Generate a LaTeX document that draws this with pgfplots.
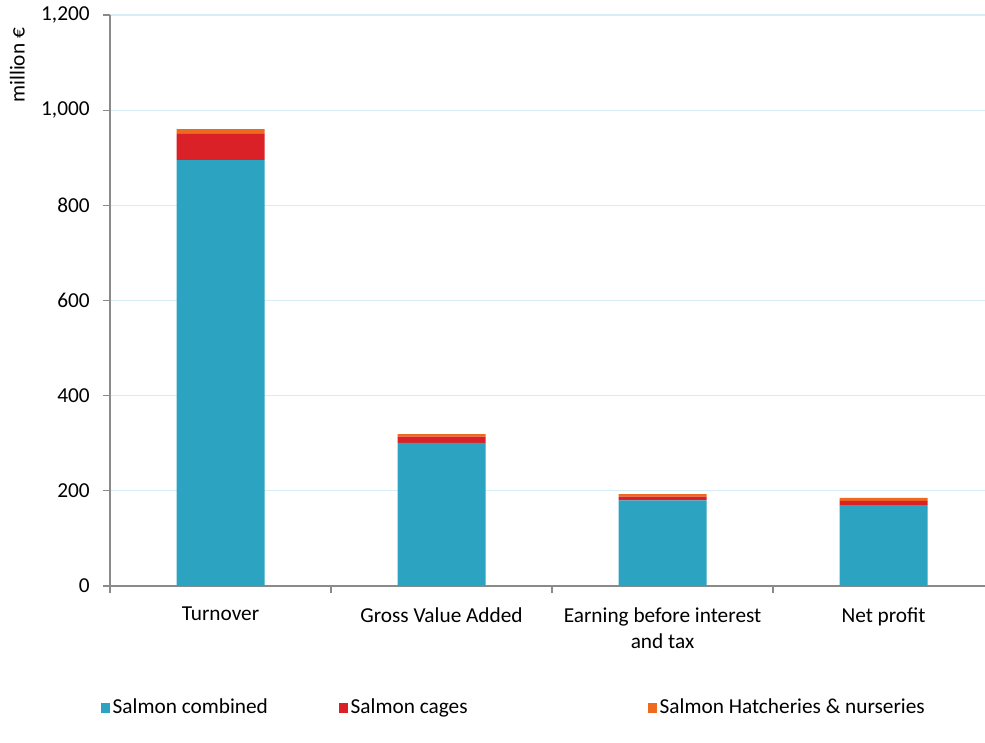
\documentclass[border=0pt]{standalone}
\usepackage{fontspec}
\setmainfont{Carlito}
\usepackage{pgfplots}
\pgfplotsset{compat=1.18}

\definecolor{cComb}{HTML}{2CA3C0}
\definecolor{cCage}{HTML}{DA2128}
\definecolor{cHatch}{HTML}{EE6A1F}
\definecolor{cGrid}{HTML}{D6EDF5}
\definecolor{cAxis}{HTML}{8A8A8A}

\begin{document}
\fontsize{21.3}{26.5}\selectfont
\begin{tikzpicture}
\begin{axis}[
  at={(0,0)}, anchor=south west,
  scale only axis, width=875pt, height=571pt,
  ybar stacked, bar width=88pt,
  xmin=-0.5, xmax=3.459, ymin=0, ymax=1200,
  ytick={0,200,...,1200},
  xtick={-0.5,0.5,1.5,2.5},
  xticklabels={},
  extra x ticks={0,1,2,3},
  extra x tick labels={Turnover, Gross Value Added, {Earning before interest\\and tax}, Net profit},
  extra x tick style={major tick length=0pt, xmajorgrids=false,
    xticklabel style={align=center, yshift=-14pt}},
  tick style={cAxis, line width=1.2pt},
  major tick length=7pt,
  tick align=outside,
  axis x line*=bottom, axis y line*=left,
  axis line style={cAxis, line width=1.2pt, -},
  ymajorgrids, grid style={cGrid, line width=1.2pt},
  yticklabel style={xshift=-6pt},
  /pgf/number format/.cd, 1000 sep={,}, assume math mode=true, /pgfplots/.cd,
  ylabel={million €},
  ylabel style={at={(axis description cs:-0.106,0.912)}, anchor=center},
  legend columns=3,
  legend style={at={(axis description cs:-0.0137,-0.213)}, anchor=west,
    draw=none, fill=none,
    /tikz/every even column/.append style={column sep=0pt},
    nodes={inner sep=2.5pt}},
  legend image code/.code={\fill[#1] (0pt,-5pt) rectangle (9pt,5pt);},
  every axis plot/.append style={draw=none},
]
\addplot[fill=cComb] coordinates {(0,895) (1,301) (2,180) (3,170)};
\addplot[fill=cCage] coordinates {(0,55) (1,13) (2,8) (3,9)};
\addplot[fill=cHatch] coordinates {(0,10) (1,5) (2,5) (3,6)};
\addlegendentry{\makebox[224pt][l]{Salmon combined}}
\addlegendentry{\makebox[295pt][l]{Salmon cages}}
\addlegendentry{Salmon Hatcheries \& nurseries}
\end{axis}
\pgfresetboundingbox
\path[use as bounding box] (-110pt,-156pt) rectangle (875pt,586pt);
\end{tikzpicture}
\end{document}
